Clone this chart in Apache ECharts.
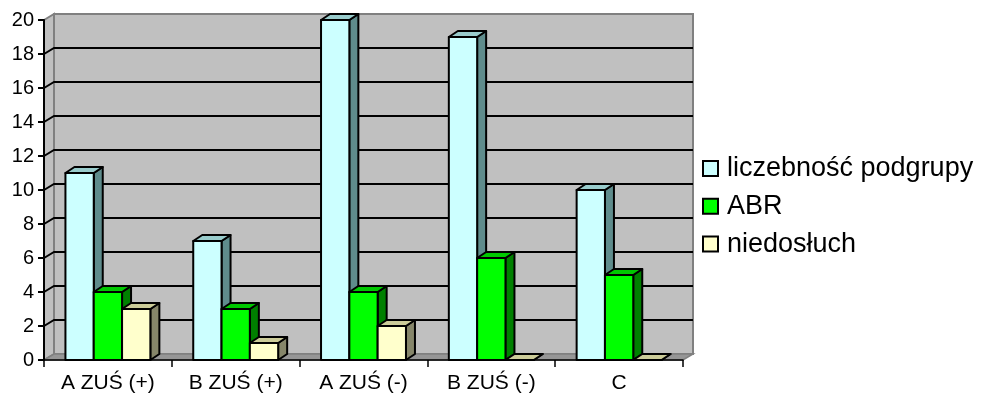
<!DOCTYPE html>
<html>
<head>
<meta charset="utf-8">
<style>
  html, body { margin: 0; padding: 0; background: #ffffff; }
  #chart { width: 982px; height: 396px; }
</style>
<script src="https://cdn.jsdelivr.net/npm/echarts@6/dist/echarts.min.js"></script>
</head>
<body>
<div id="chart"></div>
<script>
// Subgroup sizes and findings per group
const categories = ['A ZUŚ (+)', 'B ZUŚ (+)', 'A ZUŚ (-)', 'B ZUŚ (-)', 'C'];
const seriesNames = ['liczebność podgrupy', 'ABR', 'niedosłuch'];
const liczebnosc = [11, 7, 20, 19, 10];
const abr = [4, 3, 4, 6, 5];
const niedosluch = [3, 1, 2, 0, 0];
const yTicks = [0, 2, 4, 6, 8, 10, 12, 14, 16, 18, 20];

const FONT = 'Liberation Sans, Arial, sans-serif';

// Depth of the 3D frame (walls/floor) and of the prisms
const WALL_DX = 10, WALL_DY = 6;
const BAR_DX = 9, BAR_DY = 6;
const BAR_FRACTION = 0.2215;

// front / top / side face colours per series
const palette = [
  { front: '#CCFFFF', top: '#99CCCC', side: '#5F8C8C' },
  { front: '#00FF00', top: '#00C800', side: '#008000' },
  { front: '#FFFFCC', top: '#CCCC99', side: '#86866A' }
];

const chart = echarts.init(document.getElementById('chart'), null, { renderer: 'canvas' });

function frameRender(params, api) {
  const cs = params.coordSys;
  const x0 = cs.x, x1 = cs.x + cs.width, y0 = cs.y, y1 = cs.y + cs.height;
  const children = [];
  // back wall
  children.push({
    type: 'rect',
    shape: { x: x0 + WALL_DX, y: y0 - WALL_DY, width: cs.width, height: cs.height },
    style: { fill: '#C0C0C0', stroke: '#808080', lineWidth: 2 }
  });
  // left side wall
  children.push({
    type: 'polygon',
    shape: { points: [[x0, y0], [x0 + WALL_DX, y0 - WALL_DY], [x0 + WALL_DX, y1 - WALL_DY], [x0, y1]] },
    style: { fill: '#C0C0C0', stroke: '#808080', lineWidth: 2 }
  });
  // floor
  children.push({
    type: 'polygon',
    shape: { points: [[x0, y1], [x0 + WALL_DX, y1 - WALL_DY], [x1 + WALL_DX, y1 - WALL_DY], [x1, y1]] },
    style: { fill: '#969696', stroke: '#808080', lineWidth: 1.5 }
  });
  // grid lines running over the side wall and the back wall
  yTicks.forEach(function (v) {
    if (v === yTicks[0] || v === yTicks[yTicks.length - 1]) return;
    const y = api.coord([0, v])[1];
    children.push({
      type: 'polyline',
      shape: { points: [[x0, y], [x0 + WALL_DX, y - WALL_DY], [x1 + WALL_DX, y - WALL_DY]] },
      style: { fill: null, stroke: '#000000', lineWidth: 2 }
    });
  });
  return { type: 'group', children: children };
}

function makeBarRender(seriesIdx) {
  const col = palette[seriesIdx];
  return function (params, api) {
    const cat = api.value(0);
    const val = api.value(1);
    const band = api.size([1, 0])[0];
    const w = band * BAR_FRACTION;
    const top = api.coord([cat, val]);
    const base = api.coord([cat, 0]);
    const x = top[0] - 1.5 * w + seriesIdx * w;
    const yt = top[1], yb = base[1];
    const stroke = { stroke: '#000000', lineWidth: 2, lineJoin: 'round' };
    return {
      type: 'group',
      children: [
        {
          type: 'polygon',
          shape: { points: [[x + w, yt], [x + w + BAR_DX, yt - BAR_DY], [x + w + BAR_DX, yb - BAR_DY], [x + w, yb]] },
          style: Object.assign({ fill: col.side }, stroke)
        },
        {
          type: 'polygon',
          shape: { points: [[x, yt], [x + BAR_DX, yt - BAR_DY], [x + w + BAR_DX, yt - BAR_DY], [x + w, yt]] },
          style: Object.assign({ fill: col.top }, stroke)
        },
        {
          type: 'rect',
          shape: { x: x, y: yt, width: w, height: yb - yt },
          style: Object.assign({ fill: col.front }, stroke)
        }
      ]
    };
  };
}

const values = [liczebnosc, abr, niedosluch];

const barSeries = values.map(function (arr, i) {
  return {
    name: seriesNames[i],
    type: 'custom',
    renderItem: makeBarRender(i),
    encode: { x: 0, y: 1 },
    itemStyle: { color: palette[i].front, borderColor: '#000000', borderWidth: 1.5 },
    data: arr.map(function (v, c) { return [c, v]; }),
    z: 3
  };
});

chart.setOption({
  animation: false,
  backgroundColor: '#ffffff',
  grid: { left: 44, top: 20, width: 639, height: 340, containLabel: false },
  legend: {
    orient: 'vertical',
    left: 702,
    top: 155,
    padding: 0,
    icon: 'rect',
    itemWidth: 15,
    itemHeight: 15,
    itemGap: 10.8,
    textStyle: { fontSize: 27, lineHeight: 27, color: '#000000', fontFamily: FONT, padding: [0, 0, 0, 4] },
    data: seriesNames
  },
  xAxis: {
    type: 'category',
    data: categories,
    z: 10,
    axisLine: { show: true, lineStyle: { color: '#000000', width: 1.5 } },
    axisTick: { show: true, length: 7, alignWithLabel: false, lineStyle: { color: '#000000', width: 1.5 } },
    axisLabel: { fontSize: 21, color: '#000000', fontFamily: FONT, margin: 13 },
    splitLine: { show: false }
  },
  yAxis: {
    type: 'value',
    min: 0,
    max: 20,
    interval: 2,
    z: 10,
    axisLine: { show: true, lineStyle: { color: '#000000', width: 2 } },
    axisTick: { show: true, length: 6, lineStyle: { color: '#000000', width: 2 } },
    axisLabel: { fontSize: 20, color: '#000000', fontFamily: FONT, margin: 10 },
    splitLine: { show: false }
  },
  series: [
    {
      type: 'custom',
      name: 'frame',
      renderItem: frameRender,
      data: [[0, 0]],
      encode: { x: 0, y: 1 },
      silent: true,
      z: 1
    }
  ].concat(barSeries)
});
</script>
</body>
</html>
